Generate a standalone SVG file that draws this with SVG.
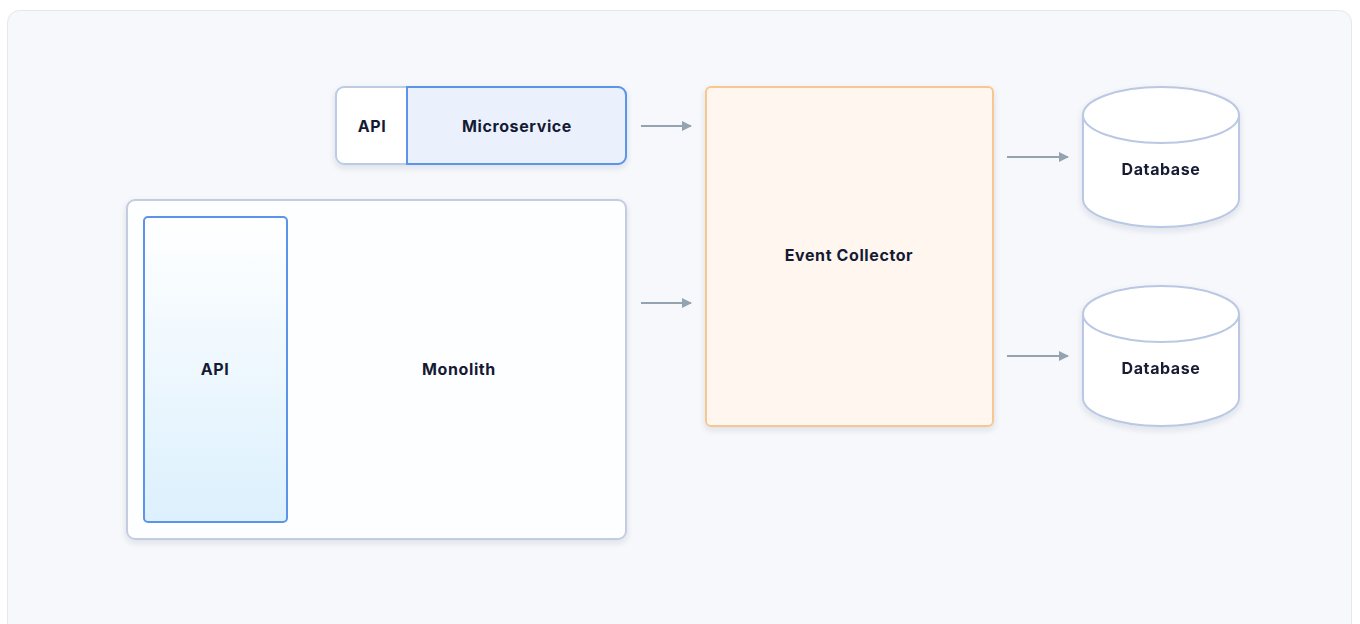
<svg xmlns="http://www.w3.org/2000/svg" width="1360" height="624" viewBox="0 0 1360 624">
<defs>
<style>
.lbl{font-family:Inter,"Noto Sans","Liberation Sans",sans-serif;font-size:16px;font-weight:700;fill:#151a33;text-anchor:middle;dominant-baseline:central;letter-spacing:0.6px}
.arr{stroke:#94a3b0;stroke-width:2;fill:none;marker-end:url(#ah)}
</style>
<marker id="ah" viewBox="0 0 10 10" refX="9" refY="5" markerWidth="5" markerHeight="5" orient="auto" markerUnits="strokeWidth">
<path d="M0,0 L10,5 L0,10 Z" fill="#94a3b0"/>
</marker>
<linearGradient id="apiG" x1="0" y1="0" x2="0" y2="1">
<stop offset="0" stop-color="#ffffff"/>
<stop offset="1" stop-color="#dcf0fd"/>
</linearGradient>
<filter id="sh" x="-10%" y="-10%" width="120%" height="130%">
<feDropShadow dx="0" dy="3" stdDeviation="3" flood-color="#1e2a50" flood-opacity="0.12"/>
</filter>
</defs>
<rect x="7.5" y="10.5" width="1344" height="640" rx="12" fill="#f7f8fc" stroke="#e4e7ee"/>
<g id="microservice-group">
<rect x="336" y="87" width="290" height="77" rx="8" fill="#ffffff" stroke="#bccbe6" stroke-width="2" filter="url(#sh)"/>
<g id="ms-api"><text class="lbl" x="372" y="126">API</text></g>
<g id="microservice">
<path d="M407,87 H618 A8,8 0 0 1 626,95 V156 A8,8 0 0 1 618,164 H407 Z" fill="#eaf1fd" stroke="#5b94e8" stroke-width="2"/>
<text class="lbl" x="517" y="126">Microservice</text>
</g>
</g>
<g id="monolith">
<rect x="127" y="200" width="499" height="339" rx="8" fill="#fdfeff" stroke="#c3cde0" stroke-width="2" filter="url(#sh)"/>
<text class="lbl" x="459" y="369">Monolith</text>
</g>
<g id="monolith-api">
<rect x="144" y="217" width="143" height="305" rx="4" fill="url(#apiG)" stroke="#5b94e8" stroke-width="2"/>
<text class="lbl" x="215" y="369">API</text>
</g>
<g id="event-collector">
<rect x="706" y="87" width="287" height="339" rx="5" fill="#fff6f0" stroke="#f8c690" stroke-width="2" filter="url(#sh)"/>
<text class="lbl" x="849" y="255">Event Collector</text>
</g>
<g id="database-1" filter="url(#sh)">
<path d="M1083,115 V199 A78,28 0 0 0 1239,199 V115" fill="#ffffff" stroke="#bac8e4" stroke-width="2"/>
<ellipse cx="1161" cy="115" rx="78" ry="28" fill="#ffffff" stroke="#bac8e4" stroke-width="2"/>
<text class="lbl" x="1161" y="169">Database</text>
</g>
<g id="database-2" filter="url(#sh)">
<path d="M1083,314 V398 A78,28 0 0 0 1239,398 V314" fill="#ffffff" stroke="#bac8e4" stroke-width="2"/>
<ellipse cx="1161" cy="314" rx="78" ry="28" fill="#ffffff" stroke="#bac8e4" stroke-width="2"/>
<text class="lbl" x="1161" y="368">Database</text>
</g>
<g id="connectors">
<path class="arr" d="M641,126 H691"/>
<path class="arr" d="M641,303 H691"/>
<path class="arr" d="M1007,157 H1068"/>
<path class="arr" d="M1007,356 H1068"/>
</g>
</svg>
